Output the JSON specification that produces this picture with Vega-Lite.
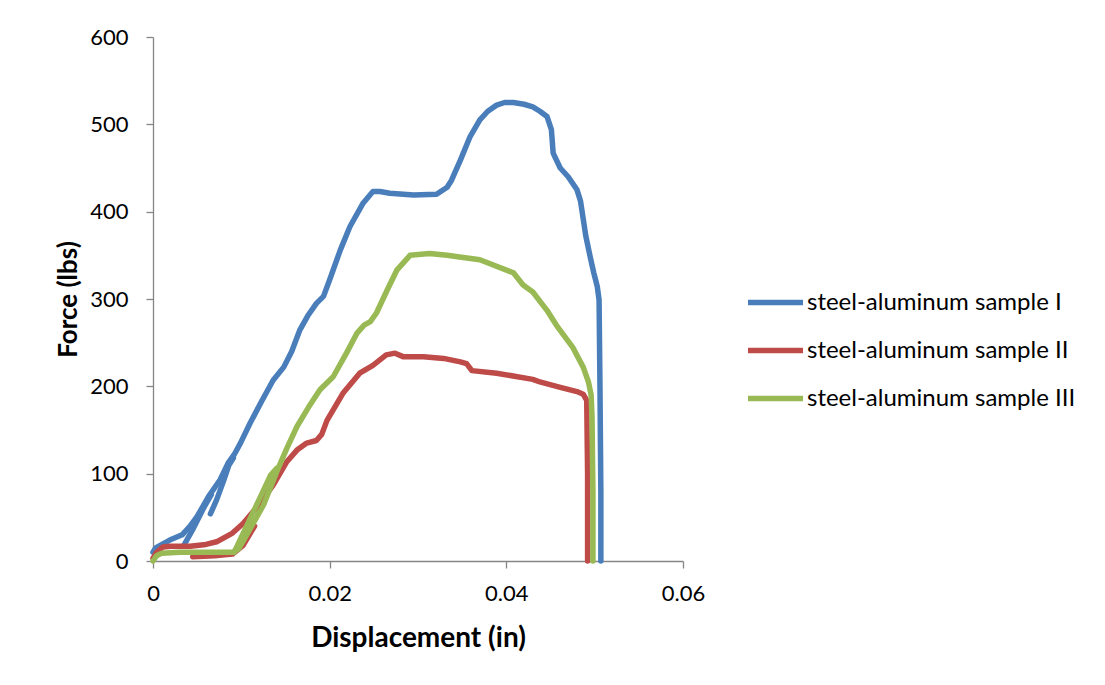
{
  "$schema": "https://vega.github.io/schema/vega-lite/v6.json",
  "width": 530,
  "height": 524,
  "autosize": {"type": "none"},
  "padding": {"left": 153, "top": 37, "right": 422, "bottom": 124},
  "background": "white",
  "config": {
    "view": {"stroke": null},
    "font": "Lato",
    "axis": {"grid": false, "domainColor": "#868686", "tickColor": "#868686", "domainWidth": 1.3, "tickWidth": 1.3, "tickSize": 7, "labelFont": "Lato", "labelFontSize": 22, "labelColor": "#000", "titleFont": "Lato", "titleFontSize": 25, "titleFontWeight": "bold", "titleColor": "#000"}
  },
  "datasets": {
    "pts": [
      {"s":"steel-aluminum sample I","g":"I-a","i":0,"x":0,"y":10},
      {"s":"steel-aluminum sample I","g":"I-a","i":1,"x":0.0003,"y":15},
      {"s":"steel-aluminum sample I","g":"I-a","i":2,"x":0.0019,"y":24},
      {"s":"steel-aluminum sample I","g":"I-a","i":3,"x":0.0033,"y":30},
      {"s":"steel-aluminum sample I","g":"I-a","i":4,"x":0.0042,"y":40},
      {"s":"steel-aluminum sample I","g":"I-a","i":5,"x":0.005,"y":51},
      {"s":"steel-aluminum sample I","g":"I-a","i":6,"x":0.0063,"y":74},
      {"s":"steel-aluminum sample I","g":"I-a","i":7,"x":0.0076,"y":93},
      {"s":"steel-aluminum sample I","g":"I-a","i":8,"x":0.0085,"y":112},
      {"s":"steel-aluminum sample I","g":"I-a","i":9,"x":0.0092,"y":122},
      {"s":"steel-aluminum sample I","g":"I-a","i":10,"x":0.0099,"y":135},
      {"s":"steel-aluminum sample I","g":"I-a","i":11,"x":0.011,"y":158},
      {"s":"steel-aluminum sample I","g":"I-a","i":12,"x":0.0123,"y":183},
      {"s":"steel-aluminum sample I","g":"I-a","i":13,"x":0.0136,"y":207},
      {"s":"steel-aluminum sample I","g":"I-a","i":14,"x":0.0148,"y":222},
      {"s":"steel-aluminum sample I","g":"I-a","i":15,"x":0.0157,"y":240},
      {"s":"steel-aluminum sample I","g":"I-a","i":16,"x":0.0166,"y":264},
      {"s":"steel-aluminum sample I","g":"I-a","i":17,"x":0.0176,"y":282},
      {"s":"steel-aluminum sample I","g":"I-a","i":18,"x":0.0185,"y":295},
      {"s":"steel-aluminum sample I","g":"I-a","i":19,"x":0.0193,"y":303},
      {"s":"steel-aluminum sample I","g":"I-a","i":20,"x":0.02,"y":322},
      {"s":"steel-aluminum sample I","g":"I-a","i":21,"x":0.0212,"y":356},
      {"s":"steel-aluminum sample I","g":"I-a","i":22,"x":0.0223,"y":383},
      {"s":"steel-aluminum sample I","g":"I-a","i":23,"x":0.0238,"y":410},
      {"s":"steel-aluminum sample I","g":"I-a","i":24,"x":0.0249,"y":423},
      {"s":"steel-aluminum sample I","g":"I-a","i":25,"x":0.0257,"y":423},
      {"s":"steel-aluminum sample I","g":"I-a","i":26,"x":0.0268,"y":421},
      {"s":"steel-aluminum sample I","g":"I-a","i":27,"x":0.0295,"y":419},
      {"s":"steel-aluminum sample I","g":"I-a","i":28,"x":0.0321,"y":420},
      {"s":"steel-aluminum sample I","g":"I-a","i":29,"x":0.0333,"y":428},
      {"s":"steel-aluminum sample I","g":"I-a","i":30,"x":0.0338,"y":436},
      {"s":"steel-aluminum sample I","g":"I-a","i":31,"x":0.0348,"y":459},
      {"s":"steel-aluminum sample I","g":"I-a","i":32,"x":0.0359,"y":486},
      {"s":"steel-aluminum sample I","g":"I-a","i":33,"x":0.037,"y":505},
      {"s":"steel-aluminum sample I","g":"I-a","i":34,"x":0.0379,"y":515},
      {"s":"steel-aluminum sample I","g":"I-a","i":35,"x":0.0389,"y":522},
      {"s":"steel-aluminum sample I","g":"I-a","i":36,"x":0.0398,"y":525},
      {"s":"steel-aluminum sample I","g":"I-a","i":37,"x":0.0408,"y":525},
      {"s":"steel-aluminum sample I","g":"I-a","i":38,"x":0.042,"y":523},
      {"s":"steel-aluminum sample I","g":"I-a","i":39,"x":0.043,"y":520},
      {"s":"steel-aluminum sample I","g":"I-a","i":40,"x":0.0438,"y":515},
      {"s":"steel-aluminum sample I","g":"I-a","i":41,"x":0.0446,"y":509},
      {"s":"steel-aluminum sample I","g":"I-a","i":42,"x":0.0451,"y":494},
      {"s":"steel-aluminum sample I","g":"I-a","i":43,"x":0.0453,"y":467},
      {"s":"steel-aluminum sample I","g":"I-a","i":44,"x":0.0461,"y":450},
      {"s":"steel-aluminum sample I","g":"I-a","i":45,"x":0.047,"y":440},
      {"s":"steel-aluminum sample I","g":"I-a","i":46,"x":0.048,"y":425},
      {"s":"steel-aluminum sample I","g":"I-a","i":47,"x":0.0484,"y":412},
      {"s":"steel-aluminum sample I","g":"I-a","i":48,"x":0.0487,"y":392},
      {"s":"steel-aluminum sample I","g":"I-a","i":49,"x":0.049,"y":372},
      {"s":"steel-aluminum sample I","g":"I-a","i":50,"x":0.0495,"y":348},
      {"s":"steel-aluminum sample I","g":"I-a","i":51,"x":0.0499,"y":330},
      {"s":"steel-aluminum sample I","g":"I-a","i":52,"x":0.0503,"y":314},
      {"s":"steel-aluminum sample I","g":"I-a","i":53,"x":0.0505,"y":299},
      {"s":"steel-aluminum sample I","g":"I-a","i":54,"x":0.0506,"y":200},
      {"s":"steel-aluminum sample I","g":"I-a","i":55,"x":0.0507,"y":80},
      {"s":"steel-aluminum sample I","g":"I-a","i":56,"x":0.0507,"y":0},
      {"s":"steel-aluminum sample I","g":"I-b","i":0,"x":0.0065,"y":54},
      {"s":"steel-aluminum sample I","g":"I-b","i":1,"x":0.0072,"y":70},
      {"s":"steel-aluminum sample I","g":"I-b","i":2,"x":0.008,"y":92},
      {"s":"steel-aluminum sample I","g":"I-b","i":3,"x":0.0086,"y":110},
      {"s":"steel-aluminum sample I","g":"I-b","i":4,"x":0.0091,"y":118},
      {"s":"steel-aluminum sample I","g":"I-c","i":0,"x":0.0035,"y":18},
      {"s":"steel-aluminum sample I","g":"I-c","i":1,"x":0.0046,"y":38},
      {"s":"steel-aluminum sample I","g":"I-c","i":2,"x":0.0058,"y":62},
      {"s":"steel-aluminum sample I","g":"I-c","i":3,"x":0.0066,"y":76},
      {"s":"steel-aluminum sample II","g":"II-a","i":0,"x":0,"y":3},
      {"s":"steel-aluminum sample II","g":"II-a","i":1,"x":0.0004,"y":10},
      {"s":"steel-aluminum sample II","g":"II-a","i":2,"x":0.0011,"y":16},
      {"s":"steel-aluminum sample II","g":"II-a","i":3,"x":0.002,"y":17},
      {"s":"steel-aluminum sample II","g":"II-a","i":4,"x":0.0042,"y":17},
      {"s":"steel-aluminum sample II","g":"II-a","i":5,"x":0.006,"y":19},
      {"s":"steel-aluminum sample II","g":"II-a","i":6,"x":0.0072,"y":22},
      {"s":"steel-aluminum sample II","g":"II-a","i":7,"x":0.009,"y":32},
      {"s":"steel-aluminum sample II","g":"II-a","i":8,"x":0.0102,"y":43},
      {"s":"steel-aluminum sample II","g":"II-a","i":9,"x":0.0118,"y":62},
      {"s":"steel-aluminum sample II","g":"II-a","i":10,"x":0.0136,"y":87},
      {"s":"steel-aluminum sample II","g":"II-a","i":11,"x":0.0151,"y":113},
      {"s":"steel-aluminum sample II","g":"II-a","i":12,"x":0.0163,"y":127},
      {"s":"steel-aluminum sample II","g":"II-a","i":13,"x":0.0174,"y":135},
      {"s":"steel-aluminum sample II","g":"II-a","i":14,"x":0.0185,"y":138},
      {"s":"steel-aluminum sample II","g":"II-a","i":15,"x":0.0191,"y":145},
      {"s":"steel-aluminum sample II","g":"II-a","i":16,"x":0.0197,"y":161},
      {"s":"steel-aluminum sample II","g":"II-a","i":17,"x":0.0215,"y":192},
      {"s":"steel-aluminum sample II","g":"II-a","i":18,"x":0.0234,"y":215},
      {"s":"steel-aluminum sample II","g":"II-a","i":19,"x":0.0249,"y":224},
      {"s":"steel-aluminum sample II","g":"II-a","i":20,"x":0.0264,"y":236},
      {"s":"steel-aluminum sample II","g":"II-a","i":21,"x":0.0274,"y":238},
      {"s":"steel-aluminum sample II","g":"II-a","i":22,"x":0.0283,"y":234},
      {"s":"steel-aluminum sample II","g":"II-a","i":23,"x":0.0306,"y":234},
      {"s":"steel-aluminum sample II","g":"II-a","i":24,"x":0.0329,"y":232},
      {"s":"steel-aluminum sample II","g":"II-a","i":25,"x":0.0348,"y":228},
      {"s":"steel-aluminum sample II","g":"II-a","i":26,"x":0.0355,"y":226},
      {"s":"steel-aluminum sample II","g":"II-a","i":27,"x":0.0361,"y":218},
      {"s":"steel-aluminum sample II","g":"II-a","i":28,"x":0.0389,"y":215},
      {"s":"steel-aluminum sample II","g":"II-a","i":29,"x":0.043,"y":208},
      {"s":"steel-aluminum sample II","g":"II-a","i":30,"x":0.0438,"y":205},
      {"s":"steel-aluminum sample II","g":"II-a","i":31,"x":0.046,"y":199},
      {"s":"steel-aluminum sample II","g":"II-a","i":32,"x":0.048,"y":194},
      {"s":"steel-aluminum sample II","g":"II-a","i":33,"x":0.0487,"y":191},
      {"s":"steel-aluminum sample II","g":"II-a","i":34,"x":0.0491,"y":184},
      {"s":"steel-aluminum sample II","g":"II-a","i":35,"x":0.0492,"y":100},
      {"s":"steel-aluminum sample II","g":"II-a","i":36,"x":0.0492,"y":0},
      {"s":"steel-aluminum sample II","g":"II-b","i":0,"x":0.0045,"y":5},
      {"s":"steel-aluminum sample II","g":"II-b","i":1,"x":0.007,"y":6},
      {"s":"steel-aluminum sample II","g":"II-b","i":2,"x":0.009,"y":8},
      {"s":"steel-aluminum sample II","g":"II-b","i":3,"x":0.0102,"y":18},
      {"s":"steel-aluminum sample II","g":"II-b","i":4,"x":0.0115,"y":40},
      {"s":"steel-aluminum sample III","g":"III-a","i":0,"x":0,"y":0},
      {"s":"steel-aluminum sample III","g":"III-a","i":1,"x":0.0004,"y":6},
      {"s":"steel-aluminum sample III","g":"III-a","i":2,"x":0.001,"y":9},
      {"s":"steel-aluminum sample III","g":"III-a","i":3,"x":0.003,"y":10},
      {"s":"steel-aluminum sample III","g":"III-a","i":4,"x":0.006,"y":10},
      {"s":"steel-aluminum sample III","g":"III-a","i":5,"x":0.009,"y":10},
      {"s":"steel-aluminum sample III","g":"III-a","i":6,"x":0.0097,"y":14},
      {"s":"steel-aluminum sample III","g":"III-a","i":7,"x":0.0105,"y":28},
      {"s":"steel-aluminum sample III","g":"III-a","i":8,"x":0.0115,"y":46},
      {"s":"steel-aluminum sample III","g":"III-a","i":9,"x":0.0125,"y":64},
      {"s":"steel-aluminum sample III","g":"III-a","i":10,"x":0.014,"y":102},
      {"s":"steel-aluminum sample III","g":"III-a","i":11,"x":0.0152,"y":130},
      {"s":"steel-aluminum sample III","g":"III-a","i":12,"x":0.0163,"y":154},
      {"s":"steel-aluminum sample III","g":"III-a","i":13,"x":0.0176,"y":176},
      {"s":"steel-aluminum sample III","g":"III-a","i":14,"x":0.0189,"y":196},
      {"s":"steel-aluminum sample III","g":"III-a","i":15,"x":0.0204,"y":211},
      {"s":"steel-aluminum sample III","g":"III-a","i":16,"x":0.0219,"y":238},
      {"s":"steel-aluminum sample III","g":"III-a","i":17,"x":0.0231,"y":261},
      {"s":"steel-aluminum sample III","g":"III-a","i":18,"x":0.0239,"y":270},
      {"s":"steel-aluminum sample III","g":"III-a","i":19,"x":0.0246,"y":274},
      {"s":"steel-aluminum sample III","g":"III-a","i":20,"x":0.0253,"y":284},
      {"s":"steel-aluminum sample III","g":"III-a","i":21,"x":0.0265,"y":310},
      {"s":"steel-aluminum sample III","g":"III-a","i":22,"x":0.0276,"y":333},
      {"s":"steel-aluminum sample III","g":"III-a","i":23,"x":0.0291,"y":350},
      {"s":"steel-aluminum sample III","g":"III-a","i":24,"x":0.0313,"y":352},
      {"s":"steel-aluminum sample III","g":"III-a","i":25,"x":0.0333,"y":350},
      {"s":"steel-aluminum sample III","g":"III-a","i":26,"x":0.0347,"y":348},
      {"s":"steel-aluminum sample III","g":"III-a","i":27,"x":0.037,"y":345},
      {"s":"steel-aluminum sample III","g":"III-a","i":28,"x":0.0408,"y":330},
      {"s":"steel-aluminum sample III","g":"III-a","i":29,"x":0.0419,"y":316},
      {"s":"steel-aluminum sample III","g":"III-a","i":30,"x":0.043,"y":308},
      {"s":"steel-aluminum sample III","g":"III-a","i":31,"x":0.0446,"y":287},
      {"s":"steel-aluminum sample III","g":"III-a","i":32,"x":0.0458,"y":268},
      {"s":"steel-aluminum sample III","g":"III-a","i":33,"x":0.0475,"y":245},
      {"s":"steel-aluminum sample III","g":"III-a","i":34,"x":0.0487,"y":222},
      {"s":"steel-aluminum sample III","g":"III-a","i":35,"x":0.0493,"y":205},
      {"s":"steel-aluminum sample III","g":"III-a","i":36,"x":0.0496,"y":190},
      {"s":"steel-aluminum sample III","g":"III-a","i":37,"x":0.0497,"y":165},
      {"s":"steel-aluminum sample III","g":"III-a","i":38,"x":0.0498,"y":80},
      {"s":"steel-aluminum sample III","g":"III-a","i":39,"x":0.0498,"y":0},
      {"s":"steel-aluminum sample III","g":"III-b","i":0,"x":0.0092,"y":10},
      {"s":"steel-aluminum sample III","g":"III-b","i":1,"x":0.0105,"y":38},
      {"s":"steel-aluminum sample III","g":"III-b","i":2,"x":0.012,"y":70},
      {"s":"steel-aluminum sample III","g":"III-b","i":3,"x":0.0133,"y":98},
      {"s":"steel-aluminum sample III","g":"III-b","i":4,"x":0.014,"y":106}
    ]
  },
  "data": {"name": "pts"},
  "mark": {"type": "line", "strokeWidth": 5.5, "strokeCap": "round", "strokeJoin": "round", "interpolate": "linear"},
  "encoding": {
    "x": {"field": "x", "type": "quantitative", "scale": {"domain": [0, 0.06], "nice": false}, "axis": {"values": [0, 0.02, 0.04, 0.06], "format": "~g", "title": "Displacement (in)", "labelPadding": 15, "labelFlush": false, "titlePadding": 20, "titleFontSize": 28}},
    "y": {"field": "y", "type": "quantitative", "scale": {"domain": [0, 600], "nice": false}, "axis": {"values": [0, 100, 200, 300, 400, 500, 600], "title": "Force (lbs)", "labelPadding": 18, "titlePadding": 8, "titleFontSize": 26}},
    "color": {"field": "s", "type": "nominal", "scale": {"domain": ["steel-aluminum sample I", "steel-aluminum sample II", "steel-aluminum sample III"], "range": ["#4A7EBB", "#BE4B48", "#98B954"]},
      "legend": {"title": null, "orient": "none", "legendX": 592, "legendY": 235, "symbolType": "stroke", "symbolSize": 3025, "symbolStrokeWidth": 5.5, "labelFontSize": 24, "labelFont": "Lato", "labelColor": "#000", "labelOffset": 1, "rowPadding": 5, "labelLimit": 400}},
    "detail": {"field": "g", "type": "nominal"},
    "order": {"field": "i", "type": "quantitative"}
  }
}
